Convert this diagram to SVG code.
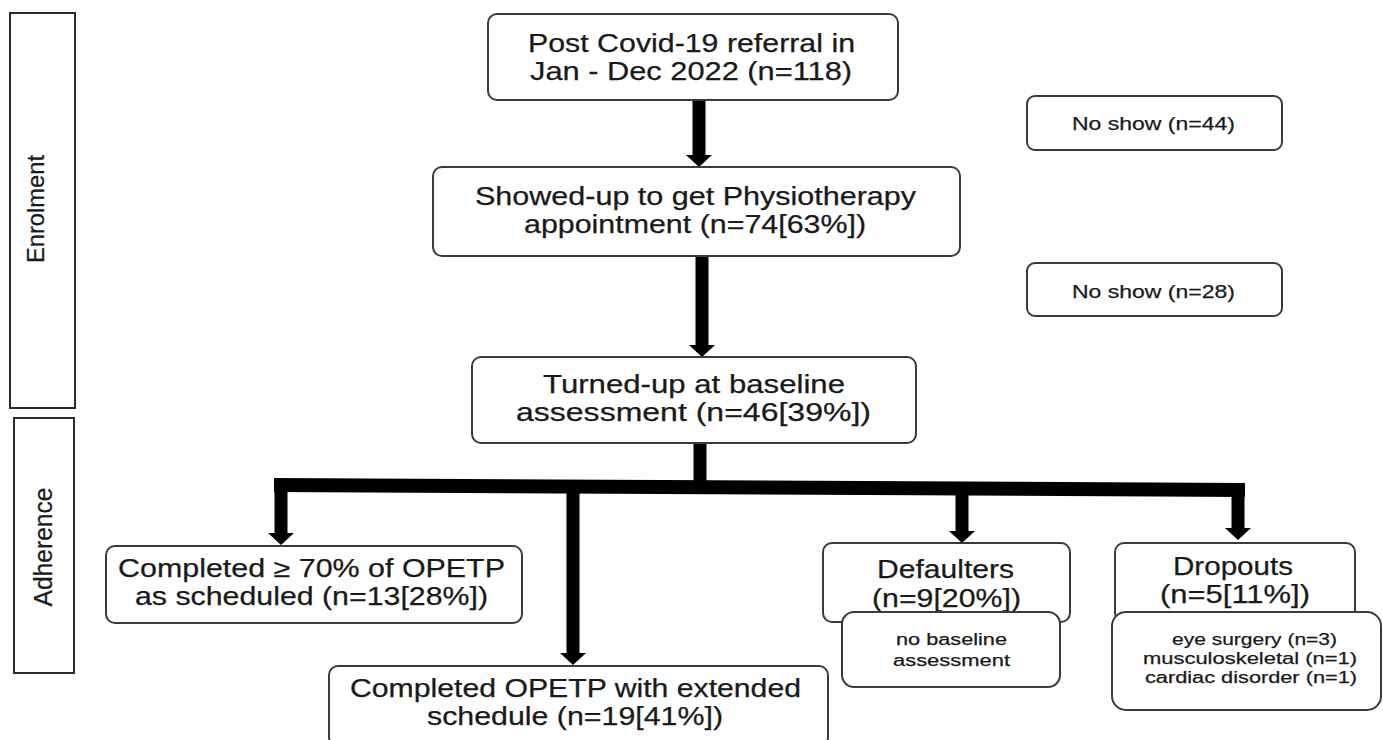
<svg xmlns="http://www.w3.org/2000/svg" width="1383" height="740" viewBox="0 0 1383 740">
<defs>
<style>
.box{fill:#fff;stroke:#3a3a3a;stroke-width:2}
.lane{fill:#fff;stroke:#2a2a2a;stroke-width:2}
text{font-family:"Liberation Sans",Arial,Helvetica,sans-serif;fill:#1a1a1a;text-anchor:middle;stroke:#1a1a1a;stroke-width:0.25}
.big{font-size:25px}
.mid{font-size:19px}
.sm{font-size:16px}
.conn{fill:none;stroke:#000;stroke-width:13}
</style>
<marker id="ah" markerUnits="userSpaceOnUse" markerWidth="14" markerHeight="28" refX="0" refY="13" orient="auto" overflow="visible">
<path d="M0,0 L12,13 L0,26 Z" fill="#000"/>
</marker>
</defs>
<rect width="1383" height="740" fill="#fff"/>

<g id="lane-enrolment">
<rect class="lane" x="10" y="13" width="65" height="395"/>
<text style="font-size:24px" transform="translate(44,209) rotate(-90)" textLength="108" lengthAdjust="spacingAndGlyphs">Enrolment</text>
</g>
<g id="lane-adherence">
<rect class="lane" x="14" y="418" width="60" height="255"/>
<text style="font-size:25px" transform="translate(52,547) rotate(-90)" textLength="119" lengthAdjust="spacingAndGlyphs">Adherence</text>
</g>

<g id="connectors">
<path class="conn" d="M699,100 V155" marker-end="url(#ah)"/>
<path class="conn" d="M702,256 V345" marker-end="url(#ah)"/>
<path class="conn" d="M700,443 V488"/>
<polygon points="274,478 1245,483 1245,497 274,492" fill="#000"/>
<path class="conn" d="M281,485 V533" marker-end="url(#ah)"/>
<path class="conn" d="M573,487 V653" marker-end="url(#ah)"/>
<path class="conn" d="M962,489 V531" marker-end="url(#ah)"/>
<path class="conn" d="M1238,490 V528" marker-end="url(#ah)"/>
</g>

<g id="referral">
<rect class="box" x="488" y="14" width="410" height="86" rx="9"/>
<text class="big" x="691.5" y="52" textLength="327" lengthAdjust="spacingAndGlyphs">Post Covid-19 referral in</text>
<text class="big" x="691" y="80" textLength="322" lengthAdjust="spacingAndGlyphs">Jan - Dec 2022 (n=118)</text>
</g>

<g id="noshow44">
<rect class="box" x="1027" y="96" width="255" height="54" rx="8"/>
<text class="mid" x="1153.5" y="130" textLength="163" lengthAdjust="spacingAndGlyphs">No show (n=44)</text>
</g>

<g id="showed">
<rect class="box" x="433" y="167" width="527" height="89" rx="9"/>
<text class="big" x="695.5" y="205" textLength="441" lengthAdjust="spacingAndGlyphs">Showed-up to get Physiotherapy</text>
<text class="big" x="695" y="233" textLength="342" lengthAdjust="spacingAndGlyphs">appointment (n=74[63%])</text>
</g>

<g id="noshow28">
<rect class="box" x="1027" y="263" width="255" height="53" rx="8"/>
<text class="mid" x="1153.5" y="298" textLength="163" lengthAdjust="spacingAndGlyphs">No show (n=28)</text>
</g>

<g id="baseline">
<rect class="box" x="472" y="357" width="444" height="86" rx="9"/>
<text class="big" x="694" y="393" textLength="302" lengthAdjust="spacingAndGlyphs">Turned-up at baseline</text>
<text class="big" x="693.5" y="421" textLength="355" lengthAdjust="spacingAndGlyphs">assessment (n=46[39%])</text>
</g>

<g id="completed70">
<rect class="box" x="106" y="546" width="416" height="77" rx="9"/>
<text class="big" x="311.5" y="577" textLength="387" lengthAdjust="spacingAndGlyphs">Completed ≥ 70% of OPETP</text>
<text class="big" x="311.5" y="605" textLength="353" lengthAdjust="spacingAndGlyphs">as scheduled (n=13[28%])</text>
</g>

<g id="extended">
<rect class="box" x="329" y="666" width="499" height="80" rx="9"/>
<text class="big" x="575.5" y="697" textLength="451" lengthAdjust="spacingAndGlyphs">Completed OPETP with extended</text>
<text class="big" x="575" y="725" textLength="296" lengthAdjust="spacingAndGlyphs">schedule (n=19[41%])</text>
</g>

<g id="defaulters">
<rect class="box" x="823" y="543" width="247" height="79" rx="9"/>
<text class="big" x="945.5" y="578" textLength="137" lengthAdjust="spacingAndGlyphs">Defaulters</text>
<text class="big" x="946.5" y="607" textLength="149" lengthAdjust="spacingAndGlyphs">(n=9[20%])</text>
</g>
<g id="defaulters-reason">
<rect class="box" x="842" y="612" width="218" height="75" rx="12"/>
<text class="sm" x="951.5" y="645" textLength="111" lengthAdjust="spacingAndGlyphs">no baseline</text>
<text class="sm" x="951.5" y="666" textLength="117" lengthAdjust="spacingAndGlyphs">assessment</text>
</g>

<g id="dropouts">
<rect class="box" x="1115" y="543" width="240" height="79" rx="9"/>
<text class="big" x="1233" y="575" textLength="120" lengthAdjust="spacingAndGlyphs">Dropouts</text>
<text class="big" x="1235" y="603" textLength="150" lengthAdjust="spacingAndGlyphs">(n=5[11%])</text>
</g>
<g id="dropouts-reasons">
<rect class="box" x="1112" y="612" width="269" height="98" rx="14"/>
<text class="sm" x="1254.5" y="645" textLength="165" lengthAdjust="spacingAndGlyphs">eye surgery (n=3)</text>
<text class="sm" x="1250" y="664" textLength="214" lengthAdjust="spacingAndGlyphs">musculoskeletal (n=1)</text>
<text class="sm" x="1251" y="683" textLength="212" lengthAdjust="spacingAndGlyphs">cardiac disorder (n=1)</text>
</g>
</svg>
